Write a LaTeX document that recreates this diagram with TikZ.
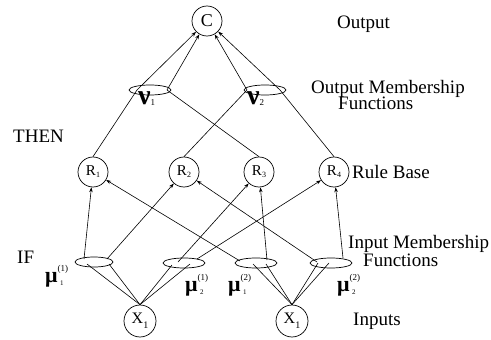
\documentclass[tikz,border=0pt]{standalone}
\usepackage{fontspec}
\setmainfont{Liberation Serif}
\usetikzlibrary{shapes.geometric,arrows.meta,calc}
\newcommand{\rlab}[1]{{\fontsize{15}{15}\selectfont R}\raisebox{-2pt}{\fontsize{8}{8}\selectfont #1}}
\newcommand{\xlab}{{\fontsize{16}{16}\selectfont X}\raisebox{-5pt}{\fontsize{10}{10}\selectfont 1}}
\newcommand{\nulab}[1]{{\fontsize{28}{28}\selectfont\bfseries ν}\raisebox{-1pt}{\fontsize{9}{9}\selectfont #1}}
\newcommand{\mulab}[2]{{\fontsize{22}{22}\selectfont\bfseries μ}\rlap{\raisebox{10.5pt}{\fontsize{9}{9}\selectfont(#2)}}\hspace{2.5pt}\raisebox{-3pt}{\fontsize{7}{7}\selectfont #1}}
\tikzset{
  circ/.style={circle, draw, line width=0.7pt, minimum size=30pt, inner sep=0pt},
  mf/.style={ellipse, draw, line width=0.7pt, minimum width=42pt, minimum height=10pt, inner sep=0pt},
  link/.style={line width=0.6pt},
  arr/.style={line width=0.6pt, -{Stealth[length=5pt,width=3.5pt]}},
  lab/.style={anchor=base west, inner sep=0pt, font=\fontsize{19}{20}\selectfont},
  glab/.style={anchor=base west, inner sep=0pt},
}
\begin{document}
\begin{tikzpicture}[x=1pt,y=-1pt]
\useasboundingbox (0,0) rectangle (491,340);
% nodes
\node[circ, font=\fontsize{18}{18}\selectfont] (C) at (207,21) {C};
\node[mf] (nu1) at (150,90) {};
\node[mf] (nu2) at (265,90) {};
\node[circ] (R1) at (93,172) {\rlab{1}};
\node[circ] (R2) at (184,172) {\rlab{2}};
\node[circ] (R3) at (259,172) {\rlab{3}};
\node[circ] (R4) at (334,172) {\rlab{4}};
\node[mf, minimum width=38pt] (m11) at (94,262) {};
\node[mf] (m21) at (184,263) {};
\node[mf] (m12) at (256,263) {};
\node[mf] (m22) at (331,263) {};
\node[circ, minimum size=32pt] (Xa) at (140,321) {\xlab};
\node[circ, minimum size=32pt] (Xb) at (292,321) {\xlab};
% coordinates on output ellipses
\coordinate (a1) at ($(nu1)+(-13,0)$);
\coordinate (b1) at ($(nu1)+(17,0)$);
\coordinate (a2) at ($(nu2)+(-18,0)$);
\coordinate (b2) at ($(nu2)+(15,0)$);
% output layer
\draw[link] (R1.north) -- (a1);
\draw[link] (R3.north) -- (b1);
\draw[link] (R2.north) -- (a2);
\draw[link] (R4.north) -- (b2);
\draw[arr] (a1) -- (C);
\draw[arr] (b1) -- (C);
\draw[arr] (a2) -- (C);
\draw[arr] (b2) -- (C);
% coordinates on input ellipses (upward)
\coordinate (p11) at ($(m11)+(-10,-3)$);
\coordinate (q11) at ($(m11)+(13,-3)$);
\coordinate (p21) at ($(m21)+(-6,-1)$);
\coordinate (q21) at ($(m21)+(13,-4)$);
\coordinate (p12) at ($(m12)+(-16,-2)$);
\coordinate (q12) at ($(m12)+(11,-3)$);
\coordinate (p22) at ($(m22)+(-14,-1)$);
\coordinate (q22) at ($(m22)+(12,-5)$);
\draw[arr] (p11) -- (R1);
\draw[arr] (p12) -- (R1);
\draw[arr] (q11) -- (R2);
\draw[arr] (p22) -- (R2);
\draw[arr] (p21) -- (R3);
\draw[arr] (q12) -- (R3);
\draw[arr] (q21) -- (R4);
\draw[arr] (q22) -- (R4);
% coordinates on input ellipses (downward)
\coordinate (d11a) at ($(m11)+(-7,2)$);
\coordinate (d11b) at ($(m11)+(15,2)$);
\coordinate (d21a) at ($(m21)+(-12,2)$);
\coordinate (d21b) at ($(m21)+(6,1)$);
\coordinate (d12a) at ($(m12)+(-3,1)$);
\coordinate (d12b) at ($(m12)+(10,1)$);
\coordinate (d22a) at ($(m22)+(-13,0)$);
\coordinate (d22b) at ($(m22)+(-2,0)$);
\draw[link] (Xa.north) -- (d11a);
\draw[link] (Xa.north) -- (d11b);
\draw[link] (Xa.north) -- (d21a);
\draw[link] (Xa.north) -- (d21b);
\draw[link] (Xb.north) -- (d12a);
\draw[link] (Xb.north) -- (d12b);
\draw[link] (Xb.north) -- (d22a);
\draw[link] (Xb.north) -- (d22b);
% greek labels
\node[glab] (lnu1) at (138,104) {\nulab{1}};
\node[glab] (lnu2) at (247,104) {\nulab{2}};
\node[glab] (lm11) at (45,282) {\mulab{1}{1}};
\node[glab] (lm21) at (185,291) {\mulab{2}{1}};
\node[glab] (lm12) at (228,291) {\mulab{1}{2}};
\node[glab] (lm22) at (337,291) {\mulab{2}{2}};
% text labels
\node[lab] (tOut) at (337,28) {Output};
\node[lab] (tOMF1) at (311,93) {Output Membership};
\node[lab] (tOMF2) at (338,110) {Functions};
\node[lab] (tThen) at (13,142) {THEN};
\node[lab] (tRB) at (352,178) {Rule Base};
\node[lab] (tIf) at (17,263) {IF};
\node[lab] (tIMF1) at (348,248) {Input Membership};
\node[lab] (tIMF2) at (363,266) {Functions};
\node[lab] (tIn) at (353,325) {Inputs};
\end{tikzpicture}
\end{document}
